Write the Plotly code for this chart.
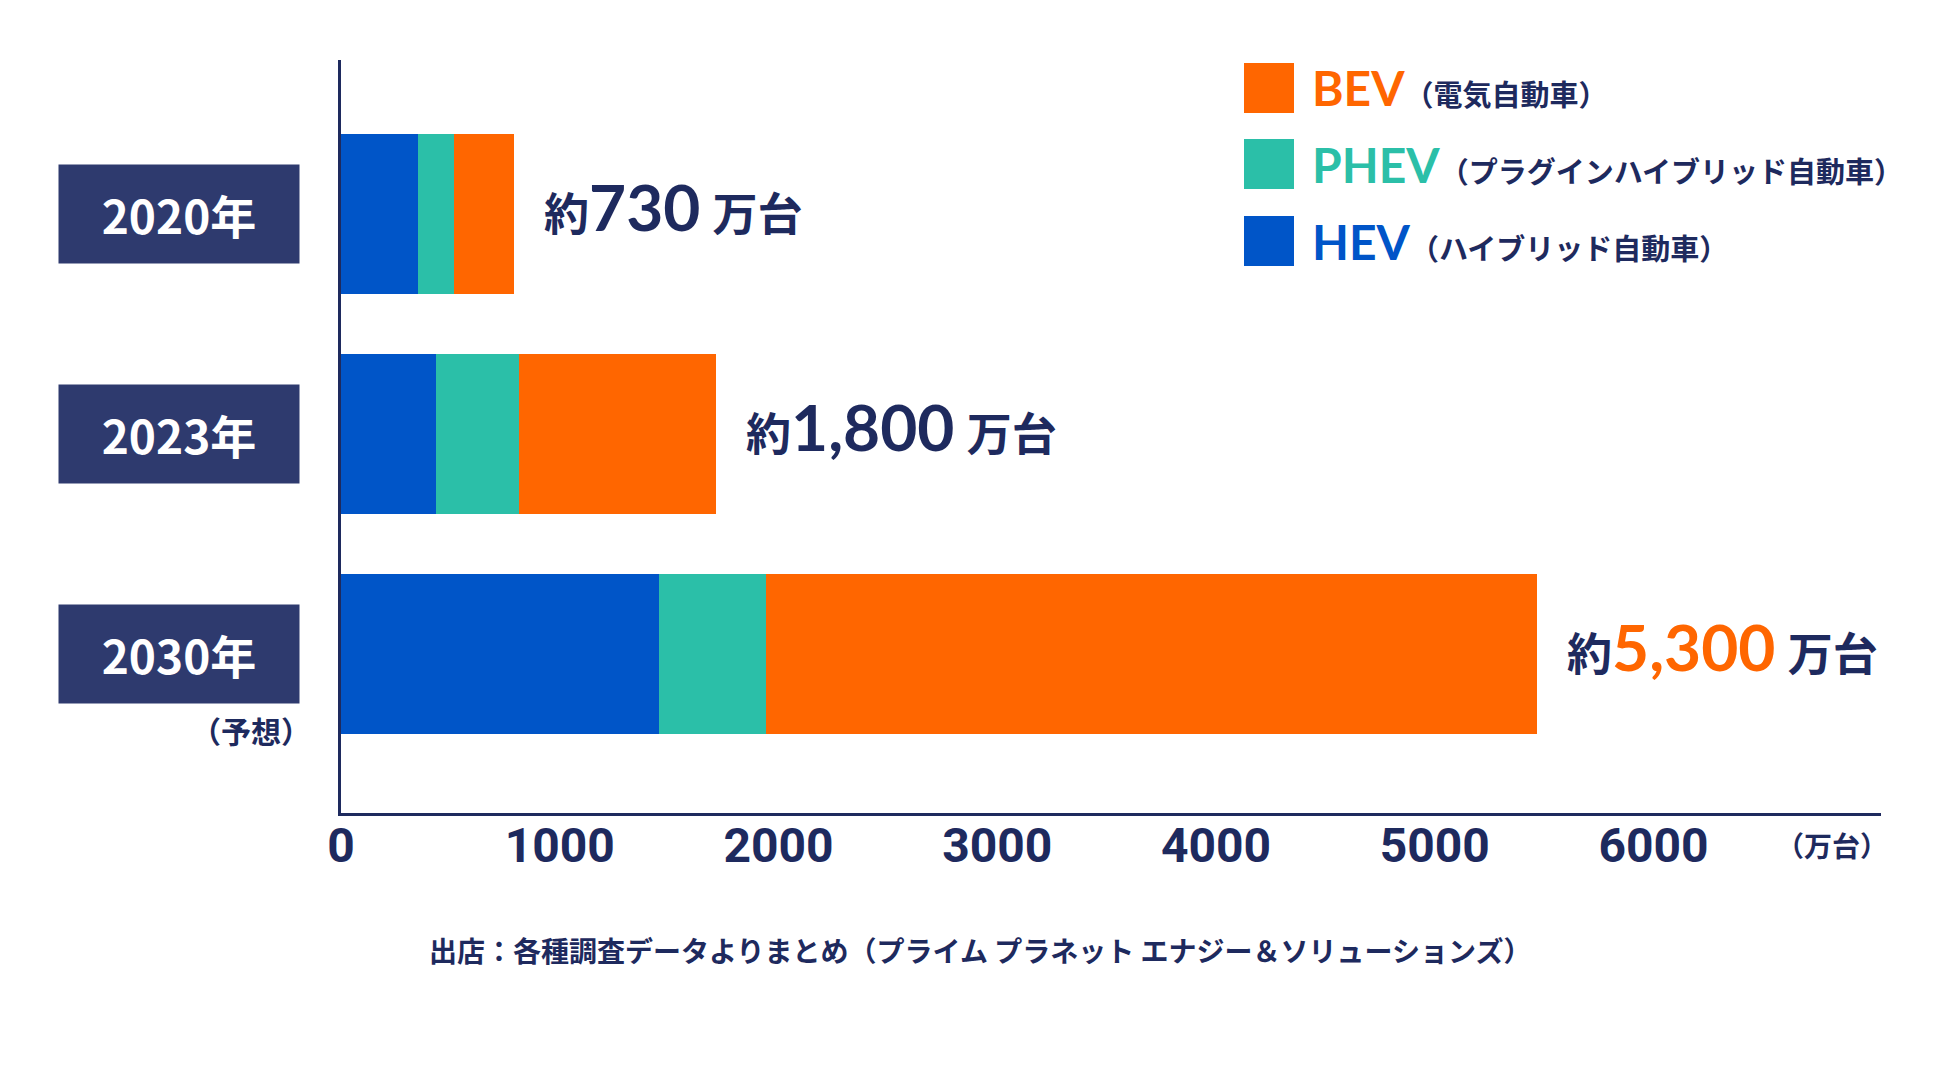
import plotly.graph_objects as go

# ---------------- data ----------------
years = ["2020年", "2023年", "2030年"]
forecast_note = "（予想）"
series_names = ["HEV", "PHEV", "BEV"]
series_desc = ["（ハイブリッド自動車）", "（プラグインハイブリッド自動車）", "（電気自動車）"]
hev = [352, 434, 1454]
phev = [165, 380, 489]
bev = [274, 901, 3525]
total_labels = ["730", "1,800", "5,300"]
x_ticks = [0, 1000, 2000, 3000, 4000, 5000, 6000]
x_unit = "（万台）"
source_text = "出店：各種調査データよりまとめ（プライム プラネット エナジー＆ソリューションズ）"

# ---------------- style ----------------
OFF = 8                      # page body margin
W, H = 1960 - OFF, 1068 - OFF
PLOT_L, PLOT_T = 341, 60     # plot-area corner in page pixels
PW, PH = 1540, 753
ML, MT = PLOT_L - OFF, PLOT_T - OFF
MR, MB = W - ML - PW, H - MT - PH
NAVY = "#1E2A5E"
BOX = "#2E3A6E"
colors = {"HEV": "#0055C8", "PHEV": "#2BBFA8", "BEV": "#FF6600"}
CJK = "Noto Sans CJK JP"
NUM = "Lato, Noto Sans CJK JP"


def px2x(px):
    return (px - PLOT_L) / PW


def px2y(py):
    return (PLOT_T + PH - py) / PH


values = {"HEV": hev, "PHEV": phev, "BEV": bev}

fig = go.Figure()
for name in series_names:
    fig.add_trace(go.Bar(
        orientation="h", y=years, x=values[name], name=name,
        marker=dict(color=colors[name], line=dict(width=0)),
        showlegend=False, hoverinfo="x+name",
    ))

annotations = []
totals = [h + p + b for h, p, b in zip(hev, phev, bev)]

# value labels
for i, (yr, tot, lbl) in enumerate(zip(years, totals, total_labels)):
    num_color = colors["BEV"] if i == len(years) - 1 else NAVY
    txt = (f'約<span style="font-size:64px;color:{num_color}">{lbl}</span>'
           f'<span style="font-size:50px"> </span>万台')
    annotations.append(dict(
        x=tot, y=yr, xref="x", yref="y", xanchor="left", yanchor="middle",
        xshift=28, yshift=7, showarrow=False, text=txt,
        font=dict(family=NUM, size=45, color=NAVY, weight="bold"),
    ))

# year boxes
for yr in years:
    annotations.append(dict(
        x=0, y=yr, xref="paper", yref="y", xanchor="right", yanchor="middle",
        xshift=-41, showarrow=False, text=yr, width=240, height=98,
        bgcolor=BOX, borderpad=0, align="center", valign="middle",
        font=dict(family=CJK, size=46, color="white", weight="bold"),
    ))

annotations.append(dict(
    x=0, y=years[-1], xref="paper", yref="y", xanchor="right", yanchor="middle",
    xshift=-28, yshift=-76, showarrow=False, text=forecast_note,
    font=dict(family=CJK, size=30, color=NAVY, weight="bold"),
))

# unit label
annotations.append(dict(
    x=px2x(1832), y=0, xref="paper", yref="paper", xanchor="center", yanchor="middle",
    yshift=-32, showarrow=False, text=x_unit,
    font=dict(family=CJK, size=28, color=NAVY, weight="bold"),
))

# source
annotations.append(dict(
    x=px2x(980), y=px2y(950), xref="paper", yref="paper", xanchor="center",
    yanchor="middle", showarrow=False, text=source_text,
    font=dict(family=CJK, size=28, color=NAVY, weight="bold"),
))

# custom legend (BEV, PHEV, HEV from top)
shapes = []
legend_rows = [88, 164, 241]
for name, yc in zip(series_names[::-1], legend_rows):
    desc = series_desc[series_names.index(name)]
    shapes.append(dict(
        type="rect", xref="paper", yref="paper",
        x0=px2x(1244), x1=px2x(1294), y0=px2y(yc + 25), y1=px2y(yc - 25),
        fillcolor=colors[name], line=dict(width=0),
    ))
    annotations.append(dict(
        x=px2x(1310), y=px2y(yc), xref="paper", yref="paper", xanchor="left",
        yanchor="middle", showarrow=False,
        text=f'<span style="font-size:48px;color:{colors[name]}">{name}</span>{desc}',
        font=dict(family=NUM, size=29, color=NAVY, weight="bold"),
    ))

fig.update_layout(
    width=W, height=H,
    margin=dict(l=ML, r=MR, t=MT, b=MB, pad=0),
    paper_bgcolor="white", plot_bgcolor="white",
    barmode="stack", bargap=0.2727,
    xaxis=dict(
        range=[0, 7040], tickvals=x_ticks, ticktext=[str(v) for v in x_ticks],
        showgrid=False, zeroline=False, showline=True, linecolor=NAVY, linewidth=3,
        ticks="", ticklabelstandoff=-12,
        tickfont=dict(family="Roboto", size=48, color=NAVY, weight="bold"),
    ),
    yaxis=dict(
        type="category", categoryarray=years, categoryorder="array",
        range=[2.723, -0.7], showgrid=False, zeroline=False, showline=True,
        linecolor=NAVY, linewidth=3, ticks="", showticklabels=False,
    ),
    annotations=annotations, shapes=shapes,
    showlegend=False,
)

fig.write_html("out.html")
